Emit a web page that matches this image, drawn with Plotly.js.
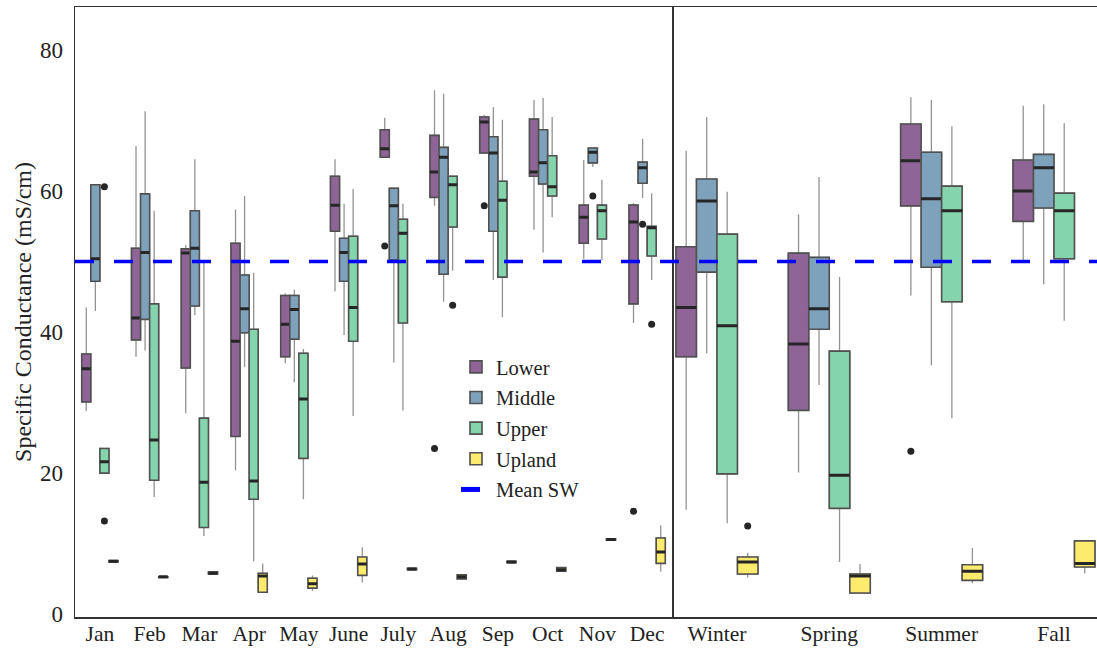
<!DOCTYPE html>
<html>
<head>
<meta charset="utf-8">
<script src="https://cdn.plot.ly/plotly-3.0.1.min.js"></script>
<style>html,body{margin:0;padding:0;background:#fff;}#chart{width:1097px;height:649px;}</style>
</head>
<body>
<div id="chart"></div>
<script>
// Categories
const months = ['Jan','Feb','Mar','Apr','May','June','July','Aug','Sep','Oct','Nov','Dec'];
const seasons = ['Winter','Spring','Summer','Fall'];
const seriesNames = ['Lower','Middle','Upper','Upland'];
const meanSW = 50;

// Box statistics per category: [lowerfence, q1, median, q3, upperfence]
const lowerMonthly = [
  [28.8,30.1,34.8,36.9,43.5],[36.5,38.9,42.0,51.9,66.4],[28.5,34.9,51.2,51.8,52.3],
  [20.4,25.2,38.7,52.6,57.4],[35.6,36.5,41.1,45.2,45.5],[45.8,54.3,58.0,62.1,64.5],
  [64.8,64.8,66.0,68.7,70.4],[57.9,59.1,62.7,67.9,74.3],[65.4,65.4,69.8,70.5,70.8],
  [54.5,62.1,62.7,70.2,72.9],[50.4,52.6,56.3,58.0,64.4],[41.3,44.0,55.6,58.0,58.3]
];
const middleMonthly = [
  [43.0,47.2,50.4,60.9,60.9],[37.4,41.8,51.3,59.6,71.3],[42.4,43.7,51.9,57.2,64.5],
  [35.0,39.9,43.3,48.1,59.3],[32.9,39.0,43.2,45.2,46.0],[39.6,47.2,51.3,53.3,58.2],
  [35.7,50.2,57.9,60.4,60.4],[44.3,48.2,64.8,66.2,73.8],[47.4,54.3,65.4,67.7,71.9],
  [51.3,61.0,64.0,68.7,73.2],[63.4,64.0,65.5,66.1,66.2],[59.0,61.1,63.3,64.1,67.4]
];
const upperMonthly = [
  [20.0,20.0,21.6,23.5,23.5],[16.6,19.0,24.7,44.0,57.2],[11.1,12.3,18.7,27.8,49.8],
  [7.5,16.3,18.9,40.4,48.4],[16.3,22.1,30.5,37.0,37.6],[28.1,38.7,43.5,53.6,60.3],
  [28.9,41.3,54.0,56.0,58.2],[48.7,54.9,60.9,62.1,62.1],[42.1,47.8,58.7,61.4,70.1],
  [56.3,59.3,60.6,65.0,70.5],[50.2,53.2,57.2,58.0,61.6],[47.4,50.8,54.8,55.0,59.7]
];
const uplandMonthly = [
  [7.4,7.4,7.5,7.6,7.6],[5.2,5.2,5.3,5.3,5.3],[5.7,5.7,5.8,6.0,6.0],
  [3.1,3.1,5.4,5.8,7.2],[3.3,3.7,4.3,5.1,5.5],[4.5,5.5,7.1,8.1,9.5],
  [6.3,6.3,6.4,6.5,6.5],[5.0,5.0,5.3,5.6,5.6],[7.3,7.3,7.4,7.5,7.5],
  [6.1,6.1,6.3,6.6,6.6],[10.5,10.5,10.6,10.7,10.7],[6.0,7.2,8.8,10.8,12.6]
];
const lowerSeasonal = [[14.8,36.5,43.5,52.1,65.7],[20.1,28.9,38.3,51.2,56.7],[45.2,57.9,64.3,69.5,73.3],[49.8,55.7,60.0,64.4,72.1]];
const middleSeasonal = [[37.0,48.5,58.6,61.7,70.5],[32.5,40.4,43.3,50.6,62.0],[35.3,49.2,58.9,65.5,72.9],[46.8,57.6,63.3,65.2,72.3]];
const upperSeasonal = [[12.9,19.9,40.9,53.9,59.9],[7.4,15.0,19.7,37.3,47.8],[27.8,44.3,57.2,60.7,69.2],[41.6,50.4,57.2,59.7,69.6]];
const uplandSeasonal = [[5.2,5.7,7.4,8.1,8.7],[3.0,3.0,5.4,5.7,7.1],[4.4,4.8,6.1,7.0,9.4],[5.8,6.7,7.2,10.4,10.4]];

// Outliers: [category, value]
const lowerOutM = [['July',52.2],['Aug',23.5],['Sep',57.9],['Dec',14.6]];
const middleOutM = [['Nov',59.3],['Dec',55.3]];
const upperOutM = [['Jan',60.6],['Jan',13.2],['Aug',43.8],['Dec',41.1]];
const uplandOutM = [];
const lowerOutS = [['Summer',23.1]];
const middleOutS = [];
const upperOutS = [];
const uplandOutS = [['Winter',12.5]];

const colors = {Lower:'#8F6598', Middle:'#7FA2BC', Upper:'#84D4AD', Upland:'#FDEB6E'};
const FONT = 'Liberation Serif, Times New Roman, serif';

const traces = [];
function col(rows, i){ return rows.map(r => r[i]); }

function addSeries(name, cats, rows, outs, xaxis, legend){
  const lf = col(rows,0), q1 = col(rows,1), md = col(rows,2), q3 = col(rows,3), uf = col(rows,4);
  const common = {type:'box', x:cats, xaxis:xaxis, yaxis:'y', offsetgroup:name, legendgroup:name,
    name:name, whiskerwidth:0, boxpoints:false, hoverinfo:'skip'};
  // whiskers (gray)
  traces.push(Object.assign({}, common, {showlegend:false, q1:q1, median:md, q3:q3, lowerfence:lf, upperfence:uf,
    fillcolor:'rgba(0,0,0,0)', line:{color:'#939393', width:1.3}}));
  // box body
  traces.push(Object.assign({}, common, {showlegend:legend, q1:q1, median:md, q3:q3, lowerfence:q1, upperfence:q3,
    fillcolor:colors[name], line:{color:'#505050', width:1.6}}));
  // median bar
  traces.push(Object.assign({}, common, {showlegend:false, q1:md, median:md, q3:md, lowerfence:md, upperfence:md,
    fillcolor:'rgba(0,0,0,0)', line:{color:'#262626', width:3}}));
  if (outs.length){
    traces.push({type:'box', xaxis:xaxis, yaxis:'y', offsetgroup:name, legendgroup:name, name:name, showlegend:false,
      x:outs.map(o=>o[0]), y:outs.map(o=>o[1]), boxpoints:'all', jitter:0, pointpos:0,
      fillcolor:'rgba(0,0,0,0)', line:{color:'rgba(0,0,0,0)', width:0}, whiskerwidth:0,
      marker:{color:'#262626', size:7}, hoverinfo:'skip'});
  }
}

addSeries('Lower', months, lowerMonthly, lowerOutM, 'x', true);
addSeries('Middle', months, middleMonthly, middleOutM, 'x', true);
addSeries('Upper', months, upperMonthly, upperOutM, 'x', true);
addSeries('Upland', months, uplandMonthly, uplandOutM, 'x', true);
addSeries('Lower', seasons, lowerSeasonal, lowerOutS, 'x2', false);
addSeries('Middle', seasons, middleSeasonal, middleOutS, 'x2', false);
addSeries('Upper', seasons, upperSeasonal, upperOutS, 'x2', false);
addSeries('Upland', seasons, uplandSeasonal, uplandOutS, 'x2', false);

const meanLine = {color:'#0000FF', width:3.5, dash:'19px,20px'};
traces.push({type:'scatter', mode:'lines', name:'Mean SW', legendgroup:'mean', x:[null], y:[null],
  xaxis:'x', yaxis:'y', line:{color:'#0000FF', width:5, dash:'19px,20px'}, hoverinfo:'skip'});

const split = (672-75)/1022;
const axisCommon = {showline:true, mirror:true, linecolor:'#333', linewidth:1.5, showgrid:false, zeroline:false,
  ticks:'', tickfont:{family:FONT, size:21.5, color:'#222'}, ticklabelstandoff:-3, fixedrange:true};

const layout = {
  width:1097, height:649,
  margin:{l:75, r:0, t:7, b:32, pad:0},
  paper_bgcolor:'#fff', plot_bgcolor:'#fff',
  boxmode:'group', boxgap:0.27, boxgroupgap:0,
  hovermode:false,
  showlegend:true,
  legend:{x:(456-75)/1022, y:(617-347)/610, xanchor:'left', yanchor:'top', bgcolor:'rgba(0,0,0,0)',
    font:{family:FONT, size:20.5, color:'#222'}, tracegroupgap:1, itemwidth:30},
  xaxis:Object.assign({}, axisCommon, {domain:[0, split], range:[-0.5, 11.5], type:'category', anchor:'y'}),
  xaxis2:Object.assign({}, axisCommon, {domain:[split, 1], range:[-0.4, 3.383], type:'category', anchor:'y'}),
  yaxis:Object.assign({}, axisCommon, {range:[-0.4, 86.1], tickvals:[0,20,40,60,80], anchor:'x',
    tickfont:{family:FONT, size:23, color:'#222'}, ticklabelstandoff:6,
    title:{text:'Specific Conductance (mS/cm)', font:{family:FONT, size:24, color:'#222'}, standoff:1}}),
  shapes:[{type:'line', xref:'paper', x0:0, x1:1, yref:'y', y0:meanSW, y1:meanSW, line:meanLine, layer:'above'}]
};

Plotly.newPlot('chart', traces, layout, {displayModeBar:false, staticPlot:true});
</script>
</body>
</html>
